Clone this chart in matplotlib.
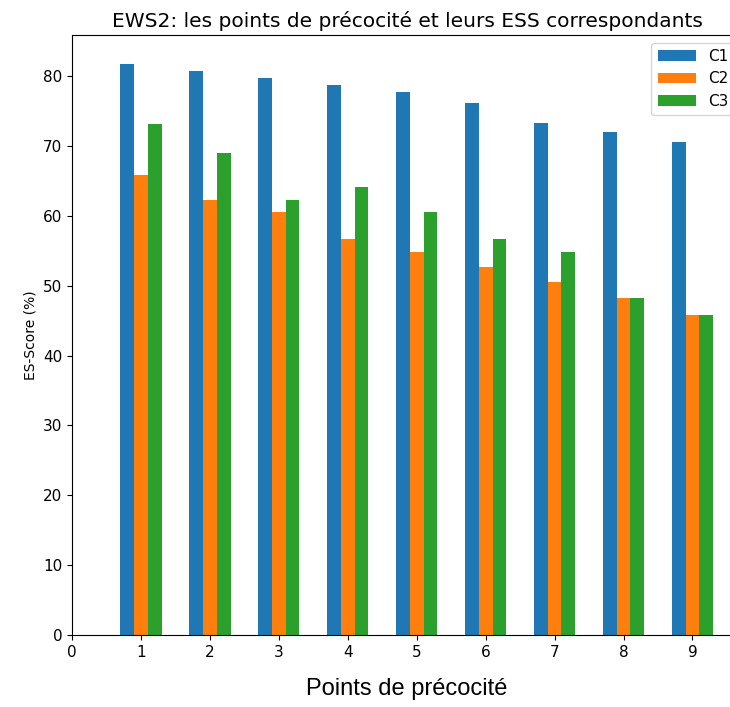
import matplotlib.pyplot as plt
import numpy as np

points = [1, 2, 3, 4, 5, 6, 7, 8, 9]
c1 = [81.8, 80.8, 79.7, 78.8, 77.7, 76.2, 73.3, 72.0, 70.6]
c2 = [65.8, 62.3, 60.5, 56.7, 54.8, 52.7, 50.6, 48.2, 45.8]
c3 = [73.2, 69.0, 62.3, 64.1, 60.5, 56.7, 54.8, 48.2, 45.8]

x = np.array(points)
w = 0.2

fig = plt.figure(figsize=(7.3, 7.07), dpi=100)
ax = fig.add_axes([0.0986, 0.1018, 0.918, 0.8487])
ax.bar(x - w, c1, w, label='C1')
ax.bar(x, c2, w, label='C2')
ax.bar(x + w, c3, w, label='C3')

ax.set_xticks(range(10))
ax.set_xlim(0, 9.72)
ax.tick_params(labelsize=11)
ax.set_title('EWS2: les points de précocité et leurs ESS correspondants', fontsize=14.5)
ax.set_xlabel('Points de précocité', fontsize=17, family='Liberation Sans', labelpad=13)
ax.set_ylabel('ES-Score (%)', fontsize=10)
ax.legend(fontsize=11, handlelength=2.5)

fig.savefig('out.png', dpi=100)
